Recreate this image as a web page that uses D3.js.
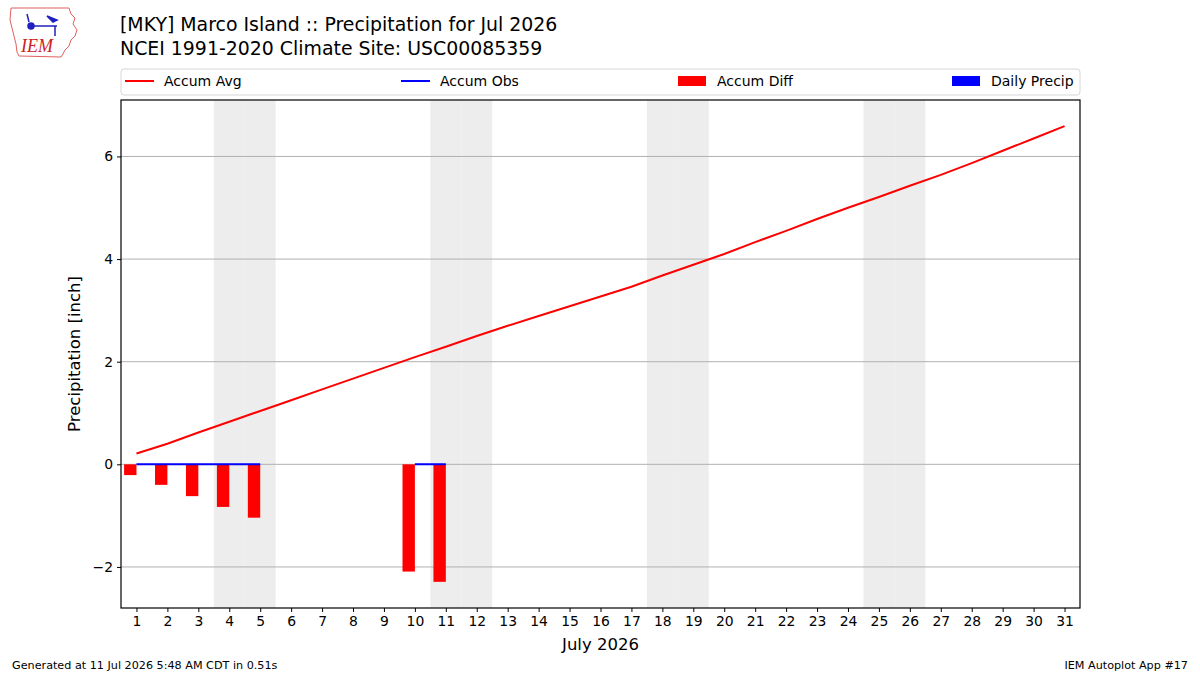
<!DOCTYPE html>
<html>
<head>
<meta charset="utf-8">
<script src="https://cdn.jsdelivr.net/npm/d3@7"></script>
<style>
  body { margin: 0; background: #fff; }
  svg { font-family: "DejaVu Sans", sans-serif; }
</style>
</head>
<body>
<div id="chart"></div>
<script>
// July 2026 daily data
const days = d3.range(1, 32);
const accumAvg = [0.21, 0.40, 0.62, 0.83, 1.04, 1.25, 1.46, 1.67, 1.88, 2.09,
  2.29, 2.50, 2.70, 2.89, 3.08, 3.27, 3.46, 3.68, 3.89, 4.10,
  4.33, 4.55, 4.78, 5.00, 5.21, 5.43, 5.64, 5.87, 6.11, 6.35, 6.59];
// observed accumulation (null = missing)
const accumObs = [0, 0, 0, 0, 0, null, null, null, null, 0, 0,
  null, null, null, null, null, null, null, null, null, null,
  null, null, null, null, null, null, null, null, null, null];
const dailyPrecip = [0, 0, 0, 0, 0, null, null, null, null, 0, 0,
  null, null, null, null, null, null, null, null, null, null,
  null, null, null, null, null, null, null, null, null, null];
const weekendDays = [4, 5, 11, 12, 18, 19, 25, 26];
const yTicks = [-2, 0, 2, 4, 6];

const W = 1200, H = 675;
const margin = { top: 100, right: 120, bottom: 67, left: 121 };

const svg = d3.select("#chart").append("svg")
  .attr("width", W)
  .attr("height", H);

const x = d3.scaleLinear().domain([0.5, 31.5]).range([margin.left, W - margin.right]);
const y = d3.scaleLinear().domain([-2.80, 7.10]).range([H - margin.bottom, margin.top]);

const plot = svg.append("g");

// weekend shading
plot.selectAll("rect.weekend")
  .data(weekendDays)
  .enter().append("rect")
  .attr("class", "weekend")
  .attr("x", d => x(d - 0.5))
  .attr("width", x(1.5) - x(0.5))
  .attr("y", y.range()[1])
  .attr("height", y.range()[0] - y.range()[1])
  .attr("fill", "#ededed");

// grid
plot.selectAll("line.grid")
  .data(yTicks)
  .enter().append("line")
  .attr("x1", x.range()[0]).attr("x2", x.range()[1])
  .attr("y1", d => y(d)).attr("y2", d => y(d))
  .attr("stroke", "#b0b0b0")
  .attr("stroke-width", 1);

// accum diff bars
const diffData = days.map((d, i) => ({ day: d, v: accumObs[i] == null ? null : accumObs[i] - accumAvg[i] }))
  .filter(d => d.v != null);
plot.selectAll("rect.diff")
  .data(diffData)
  .enter().append("rect")
  .attr("x", d => x(d.day - 0.4))
  .attr("width", x(0.9) - x(0.5))
  .attr("y", d => y(Math.max(0, d.v)))
  .attr("height", d => Math.abs(y(d.v) - y(0)))
  .attr("fill", "red");

// daily precip bars
const dailyData = days.map((d, i) => ({ day: d, v: dailyPrecip[i] })).filter(d => d.v != null);
plot.selectAll("rect.daily")
  .data(dailyData)
  .enter().append("rect")
  .attr("x", d => x(d.day))
  .attr("width", x(0.9) - x(0.5))
  .attr("y", d => y(d.v))
  .attr("height", d => y(0) - y(d.v))
  .attr("fill", "blue");

// lines
const line = d3.line()
  .defined(d => d.v != null)
  .x(d => x(d.day))
  .y(d => y(d.v));

plot.append("path")
  .datum(days.map((d, i) => ({ day: d, v: accumAvg[i] })))
  .attr("d", line)
  .attr("fill", "none")
  .attr("stroke", "red")
  .attr("stroke-width", 2);

plot.append("path")
  .datum(days.map((d, i) => ({ day: d, v: accumObs[i] })))
  .attr("d", line)
  .attr("fill", "none")
  .attr("stroke", "blue")
  .attr("stroke-width", 2);

// frame
svg.append("rect")
  .attr("x", x.range()[0]).attr("y", y.range()[1])
  .attr("width", x.range()[1] - x.range()[0])
  .attr("height", y.range()[0] - y.range()[1])
  .attr("fill", "none")
  .attr("stroke", "black")
  .attr("stroke-width", 1.2);

// axes
const xAxis = svg.append("g")
  .attr("transform", `translate(0,${y.range()[0]})`)
  .call(d3.axisBottom(x).tickValues(days).tickSize(4).tickPadding(4).tickFormat(d3.format("d")));
const yAxis = svg.append("g")
  .attr("transform", `translate(${x.range()[0]},0)`)
  .call(d3.axisLeft(y).tickValues(yTicks).tickSize(4).tickPadding(4)
    .tickFormat(d => d < 0 ? "\u2212" + Math.abs(d) : d));
[xAxis, yAxis].forEach(a => {
  a.select(".domain").remove();
  a.selectAll("text").attr("font-size", 13.9).attr("fill", "black")
    .attr("font-family", "DejaVu Sans");
  a.selectAll("line").attr("stroke", "black");
});

svg.append("text")
  .attr("x", (x.range()[0] + x.range()[1]) / 2)
  .attr("y", 650)
  .attr("text-anchor", "middle")
  .attr("font-size", 16.5)
  .text("July 2026");

svg.append("text")
  .attr("transform", `translate(80,${(y.range()[0] + y.range()[1]) / 2}) rotate(-90)`)
  .attr("text-anchor", "middle")
  .attr("font-size", 16.5)
  .text("Precipitation [inch]");

// titles
svg.append("text").attr("x", 120).attr("y", 31).attr("font-size", 18.9)
  .text("[MKY] Marco Island :: Precipitation for Jul 2026");
svg.append("text").attr("x", 120).attr("y", 55).attr("font-size", 18.9)
  .text("NCEI 1991-2020 Climate Site: USC00085359");

// legend
const legend = svg.append("g");
legend.append("rect")
  .attr("x", 121).attr("y", 69).attr("width", 959).attr("height", 26)
  .attr("rx", 3).attr("fill", "white").attr("stroke", "#d6d6d6");
const legendItems = [
  { label: "Accum Avg", type: "line", color: "red", x: 125 },
  { label: "Accum Obs", type: "line", color: "blue", x: 401 },
  { label: "Accum Diff", type: "rect", color: "red", x: 678 },
  { label: "Daily Precip", type: "rect", color: "blue", x: 952 }
];
legendItems.forEach(it => {
  if (it.type === "line") {
    legend.append("line").attr("x1", it.x).attr("x2", it.x + 29)
      .attr("y1", 81).attr("y2", 81).attr("stroke", it.color).attr("stroke-width", 2);
  } else {
    legend.append("rect").attr("x", it.x).attr("y", 76).attr("width", 28).attr("height", 10)
      .attr("fill", it.color);
  }
  legend.append("text").attr("x", it.x + 39).attr("y", 86).attr("font-size", 14)
    .text(it.label);
});

// footer
svg.append("text").attr("x", 12).attr("y", 669).attr("font-size", 11.2)
  .text("Generated at 11 Jul 2026 5:48 AM CDT in 0.51s");
svg.append("text").attr("x", 1188).attr("y", 669).attr("font-size", 11.2)
  .attr("text-anchor", "end").text("IEM Autoplot App #17");

// IEM logo (approximation)
const logo = svg.append("g").attr("transform", "translate(9,6)");
logo.append("path")
  .attr("d", "M2,2 L60,2 L62,8 L66,12 L64,18 L68,24 L66,30 L62,34 L60,40 L56,44 L54,48 L52,51 L10,50 L8,46 L7,38 L5,30 L3,22 L1,14 Z")
  .attr("fill", "white").attr("stroke", "#e06060").attr("stroke-width", 1);
logo.append("path")
  .attr("d", "M22,20 L48,20 M22,20 m-3,0 a3,3 0 1,0 6,0 a3,3 0 1,0 -6,0 M46,20 L46,30 M20,16 L18,8 M38,10 L48,14 L44,16 Z")
  .attr("fill", "#2020c0").attr("stroke", "#2020c0").attr("stroke-width", 1.5);
logo.append("text").attr("x", 12).attr("y", 46)
  .attr("font-family", "Liberation Serif, serif").attr("font-style", "italic")
  .attr("font-size", 18).attr("fill", "#cc2222").text("IEM");
</script>
</body>
</html>
